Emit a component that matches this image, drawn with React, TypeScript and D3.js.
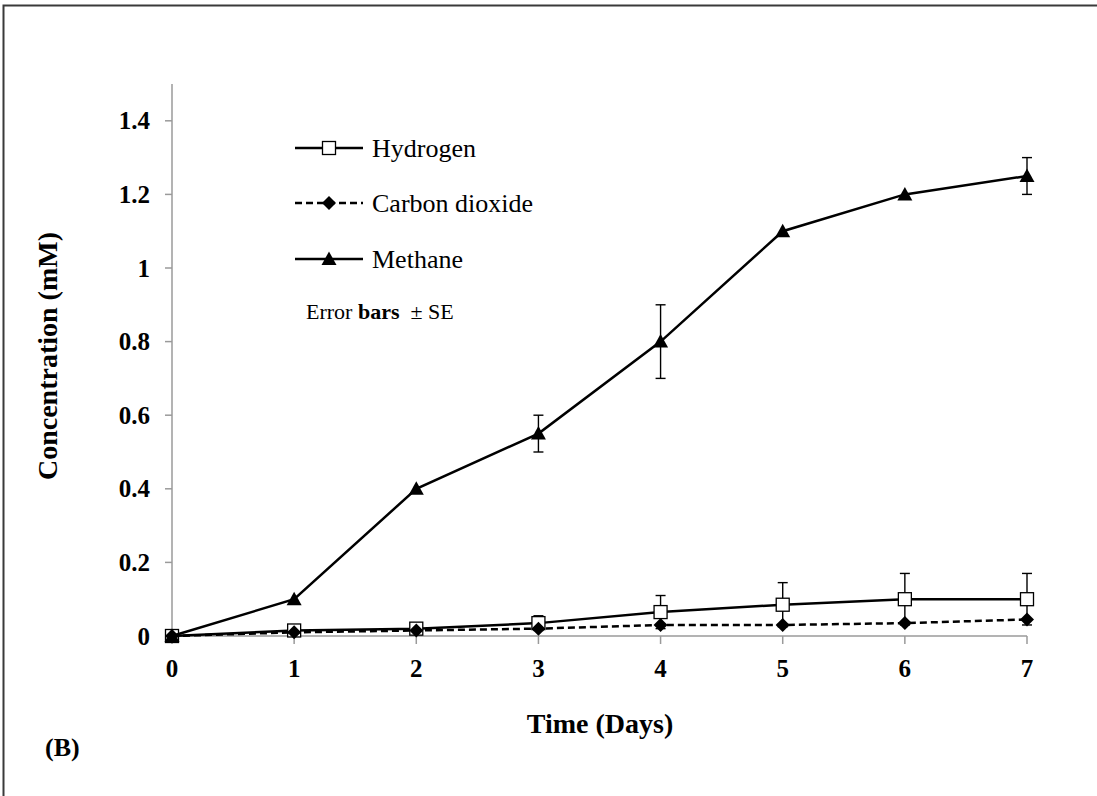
import React from "react";
import * as d3 from "d3";

// Sampling days
const days = [0, 1, 2, 3, 4, 5, 6, 7];

// Gas concentrations (mM)
const hydrogen = [0, 0.015, 0.02, 0.035, 0.065, 0.085, 0.1, 0.1];
const hydrogenSE = [0, 0, 0, 0.02, 0.045, 0.06, 0.07, 0.07];
const carbonDioxide = [0, 0.01, 0.015, 0.02, 0.03, 0.03, 0.035, 0.045];
const methane = [0, 0.1, 0.4, 0.55, 0.8, 1.1, 1.2, 1.25];
const methaneSE = [0, 0, 0, 0.05, 0.1, 0, 0, 0.05];

const yTicks = [0, 0.2, 0.4, 0.6, 0.8, 1, 1.2, 1.4];
const xTicks = [0, 1, 2, 3, 4, 5, 6, 7];

const W = 1097;
const H = 796;
const FONT = "Liberation Serif";

const x = d3.scaleLinear().domain([0, 7]).range([172, 1027]);
const y = d3.scaleLinear().domain([0, 1.5]).range([636, 84]);

const line = d3
  .line<number>()
  .x((_, i) => x(days[i]))
  .y((v) => y(v));

function Square({ cx, cy }: { cx: number; cy: number }) {
  const s = 13;
  return (
    <rect
      x={cx - s / 2}
      y={cy - s / 2}
      width={s}
      height={s}
      fill="#fff"
      stroke="#000"
      strokeWidth={1.3}
    />
  );
}

function Diamond({ cx, cy }: { cx: number; cy: number }) {
  const r = 7;
  return (
    <path
      d={`M${cx},${cy - r}L${cx + r},${cy}L${cx},${cy + r}L${cx - r},${cy}Z`}
      fill="#000"
    />
  );
}

function Triangle({ cx, cy }: { cx: number; cy: number }) {
  const r = 7.5;
  return (
    <path
      d={`M${cx},${cy - r}L${cx + r},${cy + r * 0.8}L${cx - r},${cy + r * 0.8}Z`}
      fill="#000"
    />
  );
}

function ErrorBars({ values, errs }: { values: number[]; errs: number[] }) {
  return (
    <g stroke="#000" strokeWidth={1.4}>
      {values.map((v, i) =>
        errs[i] > 0 ? (
          <g key={i}>
            <line x1={x(days[i])} x2={x(days[i])} y1={y(v - errs[i])} y2={y(v + errs[i])} />
            <line x1={x(days[i]) - 5} x2={x(days[i]) + 5} y1={y(v + errs[i])} y2={y(v + errs[i])} />
            <line x1={x(days[i]) - 5} x2={x(days[i]) + 5} y1={y(v - errs[i])} y2={y(v - errs[i])} />
          </g>
        ) : null
      )}
    </g>
  );
}

export default function App() {
  const axisColor = "#9a9a9a";
  return (
    <div style={{ position: "absolute", left: 0, top: 0 }}>
      <svg width={W} height={H} style={{ display: "block" }} fontFamily={FONT}>
        <rect x={0} y={0} width={W} height={H} fill="#fff" />
        <rect x={3.5} y={5.5} width={W + 10} height={H + 10} fill="none" stroke="#3a3a3a" strokeWidth={2} />

        {/* axes */}
        <line x1={x(0)} x2={x(0)} y1={y(1.5)} y2={y(0)} stroke={axisColor} strokeWidth={1.5} />
        {yTicks.map((t) => (
          <g key={t}>
            <line x1={x(0) - 7} x2={x(0)} y1={y(t)} y2={y(t)} stroke={axisColor} strokeWidth={1.5} />
            <text
              x={150}
              y={y(t)}
              textAnchor="end"
              dominantBaseline="central"
              fontSize={25}
              fontWeight="bold"
              fontFamily={FONT}
            >
              {t}
            </text>
          </g>
        ))}
        <line x1={x(0)} x2={x(7)} y1={y(0)} y2={y(0)} stroke={axisColor} strokeWidth={1.5} />
        {xTicks.map((t) => (
          <g key={t}>
            <line x1={x(t)} x2={x(t)} y1={y(0)} y2={y(0) + 8} stroke={axisColor} strokeWidth={1.5} />
            <text x={x(t)} y={677} textAnchor="middle" fontSize={25} fontWeight="bold" fontFamily={FONT}>
              {t}
            </text>
          </g>
        ))}

        {/* axis titles */}
        <text
          transform={`translate(57,${356}) rotate(-90)`}
          textAnchor="middle"
          fontSize={28}
          fontWeight="bold"
          fontFamily={FONT}
        >
          Concentration (mM)
        </text>
        <text x={600} y={733} textAnchor="middle" fontSize={28} fontWeight="bold" fontFamily={FONT}>
          Time (Days)
        </text>
        <text x={45} y={756} fontSize={26} fontWeight="bold" fontFamily={FONT}>
          (B)
        </text>

        {/* Hydrogen */}
        <path d={line(hydrogen) || ""} fill="none" stroke="#000" strokeWidth={2.5} />
        <ErrorBars values={hydrogen} errs={hydrogenSE} />
        {hydrogen.map((v, i) => (
          <Square key={i} cx={x(days[i])} cy={y(v)} />
        ))}

        {/* Carbon dioxide */}
        <path
          d={line(carbonDioxide) || ""}
          fill="none"
          stroke="#000"
          strokeWidth={2.5}
          strokeDasharray="7 4"
        />
        {carbonDioxide.map((v, i) => (
          <Diamond key={i} cx={x(days[i])} cy={y(v)} />
        ))}

        {/* Methane */}
        <path d={line(methane) || ""} fill="none" stroke="#000" strokeWidth={2.5} />
        <ErrorBars values={methane} errs={methaneSE} />
        {methane.map((v, i) => (
          <Triangle key={i} cx={x(days[i])} cy={y(v)} />
        ))}

        {/* legend */}
        <g fontFamily={FONT} fontWeight="normal">
          <line x1={295} x2={363} y1={148} y2={148} stroke="#000" strokeWidth={2.5} />
          <Square cx={329} cy={148} />
          <text x={372} y={157} fontSize={26} fontFamily={FONT}>
            Hydrogen
          </text>
          <line x1={295} x2={363} y1={203} y2={203} stroke="#000" strokeWidth={2.5} strokeDasharray="7 4" />
          <Diamond cx={329} cy={203} />
          <text x={372} y={212} fontSize={26} fontFamily={FONT}>
            Carbon dioxide
          </text>
          <line x1={295} x2={363} y1={259} y2={259} stroke="#000" strokeWidth={2.5} />
          <Triangle cx={329} cy={259} />
          <text x={372} y={268} fontSize={26} fontFamily={FONT}>
            Methane
          </text>
          <text x={306} y={319} fontSize={22} fontFamily={FONT} style={{ whiteSpace: "pre" }}>
            Error <tspan fontWeight="bold">bars</tspan>{"  ± SE"}
          </text>
        </g>
      </svg>
    </div>
  );
}
